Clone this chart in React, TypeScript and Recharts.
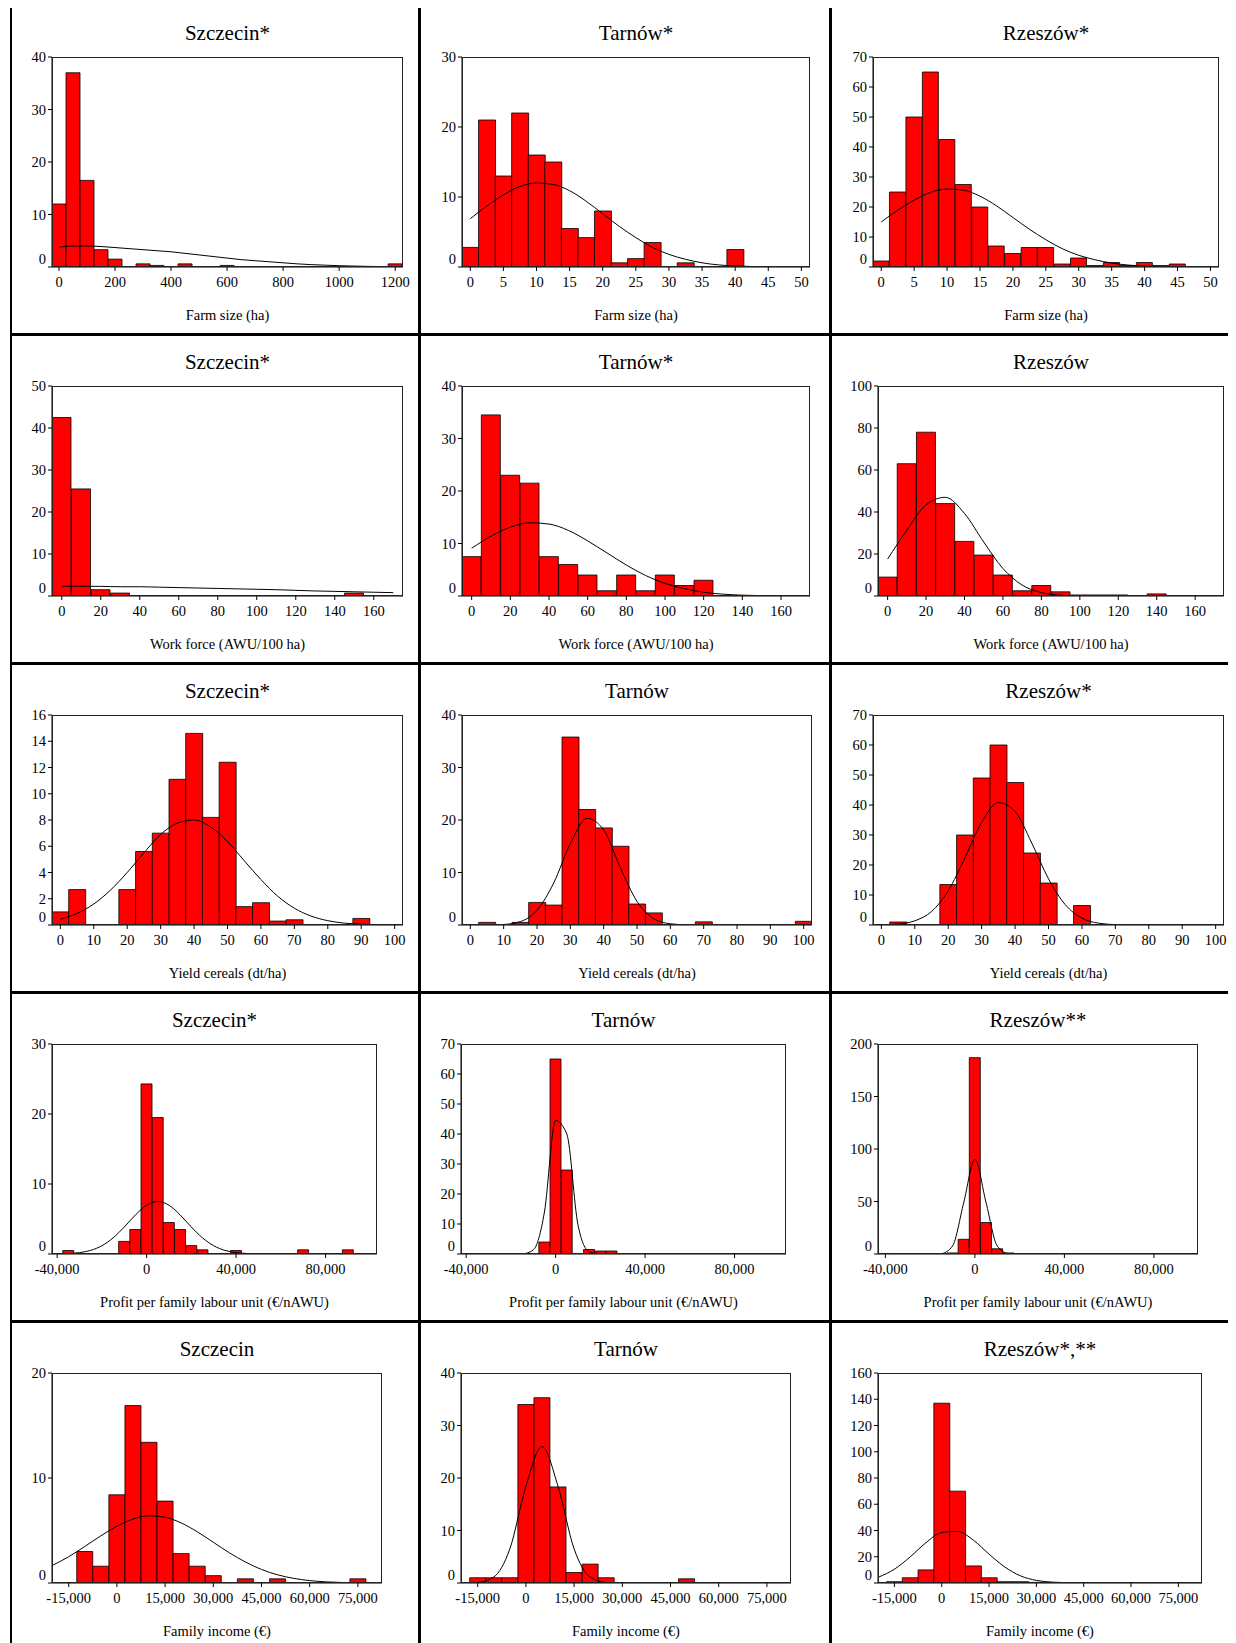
import { ComposedChart, Bar, Line, XAxis, YAxis } from 'recharts';

// bin counts and fitted-curve heights, one entry per bin centre
const szFarmCounts = [12, 37, 16.5, 3.3, 1.5, 0, 0.6, 0.3, 0, 0.6, 0, 0, 0.3, 0, 0, 0, 0, 0, 0, 0, 0, 0, 0, 0, 0.6];
const szFarmCurve = [3.8, 4, 4, 3.9, 3.7, 3.5, 3.3, 3.1, 2.9, 2.6, 2.3, 2.0, 1.7, 1.4, 1.2, 1.0, 0.8, 0.6, 0.45, 0.35, 0.25, 0.18, 0.12, 0.08, 0.05];
const taFarmCounts = [2.8, 21, 13, 22, 16, 15, 5.5, 4.2, 8, 0.6, 1.2, 3.5, 0, 0.6, 0, 0, 2.5, 0, 0, 0, 0];
const taFarmCurve = [6.9, 8.7, 10.3, 11.5, 12, 11.8, 10.9, 9.4, 7.6, 5.8, 4.2, 2.8, 1.8, 1.1, 0.6, 0.3, 0.15, 0.07, 0.03, 0.01, 0];
const rzFarmCounts = [2, 25, 50, 65, 42.5, 27.5, 20, 7, 4.5, 6.5, 6.5, 1, 3, 0.5, 1.5, 0.5, 1.5, 0.5, 1, 0, 0];
const rzFarmCurve = [15, 18.9, 22.3, 24.9, 26, 25.6, 23.6, 20.4, 16.5, 12.6, 9.1, 6.1, 3.9, 2.4, 1.3, 0.65, 0.3, 0.15, 0.06, 0.02, 0];

const szWorkCounts = [42.5, 25.5, 1.5, 0.7, 0, 0, 0, 0, 0, 0, 0, 0, 0, 0, 0, 0.7, 0, 0];
const szWorkCurve = [2.3, 2.3, 2.3, 2.2, 2.2, 2.1, 2.0, 1.9, 1.8, 1.7, 1.6, 1.5, 1.35, 1.2, 1.1, 1.0, 0.9, 0.8];
const taWorkCounts = [7.5, 34.5, 23, 21.5, 7.5, 6, 4, 1, 4, 1, 4, 2, 3, 0, 0, 0, 0, 0];
const taWorkCurve = [9.1, 11.4, 13.1, 13.95, 13.7, 12.5, 10.5, 8.2, 5.9, 3.9, 2.4, 1.4, 0.7, 0.35, 0.16, 0.07, 0.03, 0.01];
const rzWorkCounts = [9, 63, 78, 44, 26, 19.5, 10, 2.5, 5, 2, 0.5, 0.5, 0.5, 0, 1, 0, 0, 0];
const rzWorkCurve = [17.6, 31.3, 43.4, 47, 39.3, 25.7, 13.1, 5.2, 1.6, 0.4, 0.07, 0, 0, 0, 0, 0, 0, 0];

const szYieldCounts = [1, 2.7, 0, 0, 2.7, 5.6, 7, 11.1, 14.6, 8.2, 12.4, 1.4, 1.7, 0.3, 0.4, 0, 0, 0, 0.5, 0, 0];
const szYieldCurve = [0.44, 0.88, 1.6, 2.66, 4.0, 5.5, 6.9, 7.76, 8, 7.47, 6.36, 4.9, 3.46, 2.2, 1.28, 0.68, 0.33, 0.14, 0.06, 0.02, 0.01];
const taYieldCounts = [0, 0.5, 0, 0.5, 4.3, 3.8, 35.8, 22, 18.5, 15, 4, 2.3, 0, 0, 0.6, 0, 0, 0, 0, 0, 0.7];
const taYieldCurve = [0, 0.01, 0.1, 0.65, 2.8, 8, 15.5, 20.3, 18.1, 10.9, 4.5, 1.2, 0.23, 0.03, 0, 0, 0, 0, 0, 0, 0];
const rzYieldCounts = [0, 1, 0, 0, 13.5, 30, 49, 60, 47.5, 24, 14, 0, 6.5, 0, 0, 0, 0, 0, 0, 0, 0];
const rzYieldCurve = [0.06, 0.33, 1.4, 4.5, 11.4, 22.4, 34.2, 40.8, 37.8, 27.3, 15.4, 6.8, 2.3, 0.6, 0.13, 0.02, 0, 0, 0, 0, 0];

// profit bins: -40000 .. 100000 step 5000
const szProfitCounts = [0, 0.5, 0, 0, 0, 0, 1.8, 3.5, 24.3, 19.5, 4.5, 3.5, 1.2, 0.6, 0, 0, 0.5, 0, 0, 0, 0, 0, 0.6, 0, 0, 0, 0.6, 0, 0];
const szProfitCurve = [0.02, 0.07, 0.2, 0.52, 1.18, 2.3, 3.85, 5.58, 6.97, 7.5, 6.97, 5.58, 3.85, 2.3, 1.18, 0.52, 0.2, 0.07, 0.02, 0, 0, 0, 0, 0, 0, 0, 0, 0, 0];
const taProfitCounts = [0, 0, 0, 0, 0, 0, 0, 4, 65, 28, 0, 1.5, 1, 1, 0, 0, 0, 0, 0, 0, 0, 0, 0, 0, 0, 0, 0, 0, 0];
const taProfitCurve = [0, 0, 0, 0, 0, 0.04, 1.33, 14, 44.5, 40, 9.7, 0.73, 0.02, 0, 0, 0, 0, 0, 0, 0, 0, 0, 0, 0, 0, 0, 0, 0, 0];
const rzProfitCounts = [0.5, 0, 0, 0, 0, 0, 1, 14, 187, 30, 5, 1, 0, 0, 0, 0, 0, 0, 0, 0, 0, 0, 0, 0, 0, 0, 0, 0, 0];
const rzProfitCurve = [0, 0, 0, 0, 0, 0.4, 7.6, 48.8, 90, 48.8, 7.6, 0.4, 0, 0, 0, 0, 0, 0, 0, 0, 0, 0, 0, 0, 0, 0, 0, 0, 0];

// income bins: -20000 .. 85000 step 5000
const szIncomeCounts = [0, 0, 3, 1.6, 8.4, 16.9, 13.4, 7.8, 2.8, 1.6, 0.7, 0, 0.4, 0, 0.4, 0, 0, 0, 0, 0.4, 0, 0];
const szIncomeCurve = [1.69, 2.5, 3.48, 4.49, 5.41, 6.09, 6.4, 6.26, 5.72, 4.88, 3.88, 2.88, 2.0, 1.29, 0.78, 0.44, 0.23, 0.11, 0.05, 0.02, 0.01, 0];
const taIncomeCounts = [0, 1, 1, 1, 34, 35.3, 18.3, 2, 3.6, 1, 0, 0, 0, 0, 0.8, 0, 0, 0, 0, 0, 0, 0];
const taIncomeCurve = [0, 0.1, 1.14, 6.5, 18.4, 26, 18.4, 6.5, 1.14, 0.1, 0, 0, 0, 0, 0, 0, 0, 0, 0, 0, 0, 0];
const rzIncomeCounts = [0, 1, 4, 10, 137, 70, 13, 4, 1, 1, 0.5, 0.5, 0, 0, 0, 0, 0, 0, 0, 0, 0, 0];
const rzIncomeCurve = [4.5, 10.5, 19.9, 30.7, 38.5, 39.3, 32.7, 22, 12.2, 5.4, 2, 0.6, 0.15, 0.03, 0, 0, 0, 0, 0, 0, 0, 0];

const farmTicksSz = [0, 200, 400, 600, 800, 1000, 1200];
const farmTicks = [0, 5, 10, 15, 20, 25, 30, 35, 40, 45, 50];
const workTicks = [0, 20, 40, 60, 80, 100, 120, 140, 160];
const yieldTicks = [0, 10, 20, 30, 40, 50, 60, 70, 80, 90, 100];
const profitTicks = [-40000, 0, 40000, 80000];
const incomeTicks = [-15000, 0, 15000, 30000, 45000, 60000, 75000];

type P = {
  title: string; xLabel: string; start: number; step: number; counts: number[]; curve: number[];
  xDomain: [number, number]; xTicks: number[]; yTicks: number[]; left: number; w: number;
};

const fmt = (v: number) => (Math.abs(v) >= 10000 ? v.toLocaleString('en-US') : String(v));
const FONT = '"Liberation Serif", "Times New Roman", serif';
const CW = 409;
const PT = 50;
const PH = 210;

const XTick = (props: any) => (
  <text x={props.x} y={props.y} dy={14} textAnchor="middle" fontFamily={FONT} fontSize={14.5} fill="#000">
    {fmt(props.payload.value)}
  </text>
);
const YTick = (props: any) => (
  <text x={props.x} y={props.y} dy={props.payload.value === 0 ? -3 : 5} textAnchor="end" fontFamily={FONT} fontSize={14.5} fill="#000">
    {props.payload.value}
  </text>
);

function Panel({ p }: { p: P }) {
  const data = p.counts.map((c, i) => ({ x: p.start + p.step * i, y: c, f: p.curve[i] }));
  const yMax = p.yTicks[p.yTicks.length - 1];
  return (
    <div style={{ position: 'relative', width: CW, height: 326, fontFamily: FONT }}>
      <div style={{ position: 'absolute', top: 14, left: p.left, width: p.w, textAlign: 'center', fontSize: 21 }}>{p.title}</div>
      <ComposedChart width={CW} height={PT + PH + 30} data={data} barCategoryGap={0} barGap={0}
        margin={{ top: PT, left: 0, right: CW - p.left - p.w, bottom: 0 }}>
        <XAxis type="number" dataKey="x" domain={p.xDomain} allowDataOverflow ticks={p.xTicks}
          tick={<XTick />} tickSize={4} height={30} stroke="#000" interval={0} />
        <YAxis type="number" domain={[0, yMax]} allowDataOverflow ticks={p.yTicks} tick={<YTick />} tickSize={4}
          width={p.left} stroke="#000" interval={0} />
        <Bar dataKey="y" fill="#ff0000" stroke="#000" strokeWidth={0.8} isAnimationActive={false} />
        <Line dataKey="f" type="monotone" dot={false} activeDot={false} stroke="#000" strokeWidth={1} isAnimationActive={false} />
      </ComposedChart>
      <div style={{ position: 'absolute', top: PT, left: p.left, width: p.w, height: PH, border: '1px solid #222', boxSizing: 'border-box', pointerEvents: 'none' }} />
      <div style={{ position: 'absolute', top: 300, left: p.left, width: p.w, textAlign: 'center', fontSize: 14.5 }}>{p.xLabel}</div>
    </div>
  );
}

const farmSz: [number, number] = [-25, 1228];
const farmD: [number, number] = [-1.25, 51.3];
const workD: [number, number] = [-5, 175];
const yieldD: [number, number] = [-2.5, 102.5];

const panels: P[] = [
  { title: 'Szczecin*', xLabel: 'Farm size (ha)', start: 0, step: 50, counts: szFarmCounts, curve: szFarmCurve, xDomain: farmSz, xTicks: farmTicksSz, yTicks: [0, 10, 20, 30, 40], left: 40, w: 351 },
  { title: 'Tarnów*', xLabel: 'Farm size (ha)', start: 0, step: 2.5, counts: taFarmCounts, curve: taFarmCurve, xDomain: farmD, xTicks: farmTicks, yTicks: [0, 10, 20, 30], left: 41, w: 348 },
  { title: 'Rzeszów*', xLabel: 'Farm size (ha)', start: 0, step: 2.5, counts: rzFarmCounts, curve: rzFarmCurve, xDomain: farmD, xTicks: farmTicks, yTicks: [0, 10, 20, 30, 40, 50, 60, 70], left: 41, w: 346 },
  { title: 'Szczecin*', xLabel: 'Work force (AWU/100 ha)', start: 0, step: 10, counts: szWorkCounts, curve: szWorkCurve, xDomain: workD, xTicks: workTicks, yTicks: [0, 10, 20, 30, 40, 50], left: 40, w: 351 },
  { title: 'Tarnów*', xLabel: 'Work force (AWU/100 ha)', start: 0, step: 10, counts: taWorkCounts, curve: taWorkCurve, xDomain: workD, xTicks: workTicks, yTicks: [0, 10, 20, 30, 40], left: 41, w: 348 },
  { title: 'Rzeszów', xLabel: 'Work force (AWU/100 ha)', start: 0, step: 10, counts: rzWorkCounts, curve: rzWorkCurve, xDomain: workD, xTicks: workTicks, yTicks: [0, 20, 40, 60, 80, 100], left: 46, w: 346 },
  { title: 'Szczecin*', xLabel: 'Yield cereals (dt/ha)', start: 0, step: 5, counts: szYieldCounts, curve: szYieldCurve, xDomain: yieldD, xTicks: yieldTicks, yTicks: [0, 2, 4, 6, 8, 10, 12, 14, 16], left: 40, w: 351 },
  { title: 'Tarnów', xLabel: 'Yield cereals (dt/ha)', start: 0, step: 5, counts: taYieldCounts, curve: taYieldCurve, xDomain: yieldD, xTicks: yieldTicks, yTicks: [0, 10, 20, 30, 40], left: 41, w: 350 },
  { title: 'Rzeszów*', xLabel: 'Yield cereals (dt/ha)', start: 0, step: 5, counts: rzYieldCounts, curve: rzYieldCurve, xDomain: yieldD, xTicks: yieldTicks, yTicks: [0, 10, 20, 30, 40, 50, 60, 70], left: 41, w: 351 },
  { title: 'Szczecin*', xLabel: 'Profit per family labour unit (€/nAWU)', start: -40000, step: 5000, counts: szProfitCounts, curve: szProfitCurve, xDomain: [-42300, 103000], xTicks: profitTicks, yTicks: [0, 10, 20, 30], left: 40, w: 325 },
  { title: 'Tarnów', xLabel: 'Profit per family labour unit (€/nAWU)', start: -40000, step: 5000, counts: taProfitCounts, curve: taProfitCurve, xDomain: [-42300, 103000], xTicks: profitTicks, yTicks: [0, 10, 20, 30, 40, 50, 60, 70], left: 40, w: 325 },
  { title: 'Rzeszów**', xLabel: 'Profit per family labour unit (€/nAWU)', start: -40000, step: 5000, counts: rzProfitCounts, curve: rzProfitCurve, xDomain: [-43300, 99700], xTicks: profitTicks, yTicks: [0, 50, 100, 150, 200], left: 46, w: 320 },
  { title: 'Szczecin', xLabel: 'Family income (€)', start: -20000, step: 5000, counts: szIncomeCounts, curve: szIncomeCurve, xDomain: [-20200, 82500], xTicks: incomeTicks, yTicks: [0, 10, 20], left: 40, w: 330 },
  { title: 'Tarnów', xLabel: 'Family income (€)', start: -20000, step: 5000, counts: taIncomeCounts, curve: taIncomeCurve, xDomain: [-20200, 82500], xTicks: incomeTicks, yTicks: [0, 10, 20, 30, 40], left: 40, w: 330 },
  { title: 'Rzeszów*,**', xLabel: 'Family income (€)', start: -20000, step: 5000, counts: rzIncomeCounts, curve: rzIncomeCurve, xDomain: [-20200, 82500], xTicks: incomeTicks, yTicks: [0, 20, 40, 60, 80, 100, 120, 140, 160], left: 46, w: 324 },
];

export default function App() {
  return (
    <div style={{ position: 'relative', marginLeft: 2, marginTop: -3, width: 1226, display: 'grid', gridTemplateColumns: '409px 411px 406px', borderLeft: '2px solid #000', borderTop: '2px solid #000' }}>
      {panels.map((p, i) => (
        <div key={i} style={{ borderRight: i % 3 < 2 ? '3px solid #000' : 'none', borderBottom: i < 12 ? '3px solid #000' : 'none', height: 326, overflow: 'hidden' }}>
          <Panel p={p} />
        </div>
      ))}
    </div>
  );
}
